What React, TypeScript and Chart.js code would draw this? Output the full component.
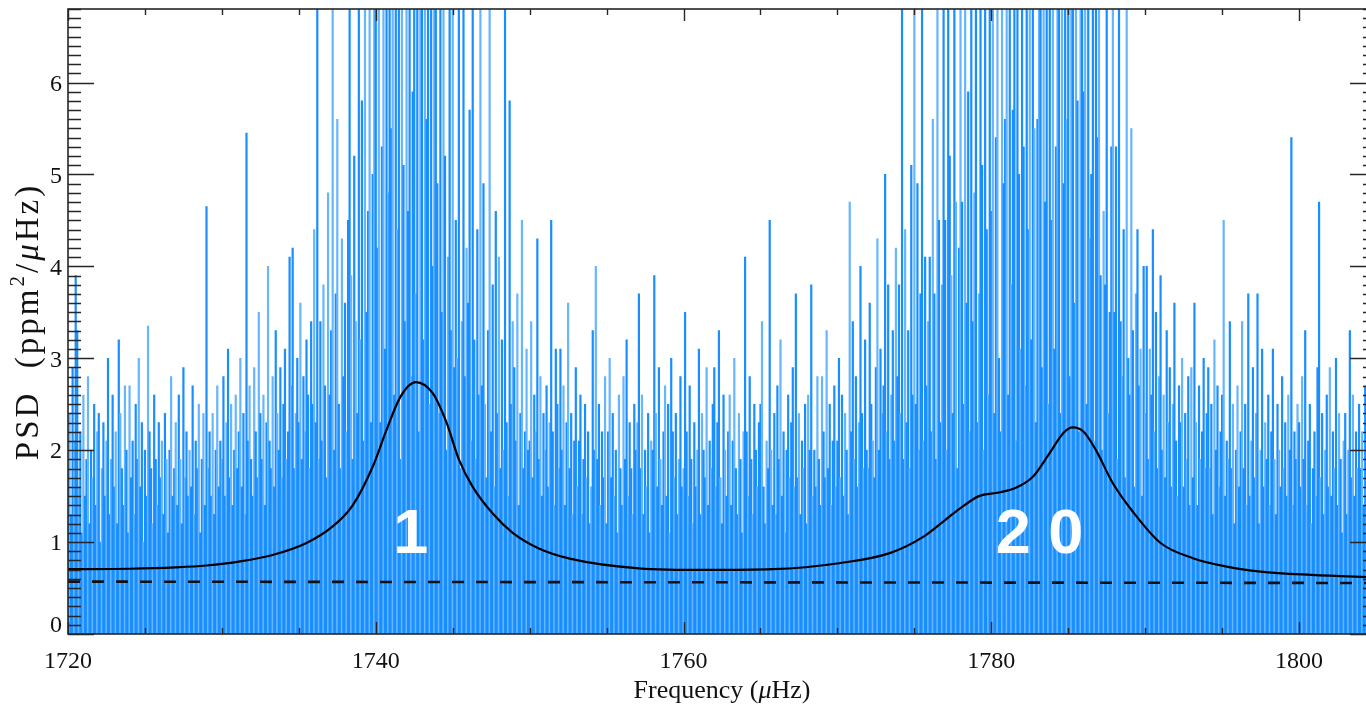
import React, { useEffect, useRef } from "react";
import { Chart, registerables } from "chart.js";

Chart.register(...registerables);

// ---- axis ranges ----
const FREQ_MIN = 1720;
const FREQ_MAX = 1805;
const PSD_MIN = 0;
const PSD_MAX = 6.8;
const BIN_WIDTH = 0.1; // µHz between spectrum columns

// ---- tick labels ----
const xMajorTicks = [1720, 1740, 1760, 1780, 1800];
const xMinorStep = 5;
const yMajorTicks = [0, 1, 2, 3, 4, 5, 6];
const yMinorStep = 0.1;

// ---- observed power spectrum (PSD, ppm^2/µHz), one array per 10 µHz, 0.1 µHz bins ----
const psd1720 = [1.8,2.4,1.3,2.9,2.1,3.9,3.3,1.6,2.2,1.1, 2.6,1.5,1.9,2.8,1.2,2.0,1.7,2.5,1.4,2.2, 2.4,1.0,1.8,2.3,1.5,2.1,3.0,1.3,1.9,2.6, 1.6,2.2,1.2,3.2,2.4,1.8,1.4,2.7,2.0,1.1, 2.7,1.7,2.1,1.3,2.5,1.9,3.0,1.6,2.3,1.0, 2.0,1.5,3.35,2.2,1.8,1.2,2.6,1.9,1.4,2.3, 1.7,2.1,1.3,2.4,1.9,1.1,2.0,2.8,1.5,1.8, 2.3,1.4,2.6,1.9,1.2,2.9,1.7,2.2,1.5,2.0, 1.6,2.7,1.3,2.1,1.8,2.5,1.1,1.9,2.4,1.4, 4.65,1.8,2.2,1.5,2.4,1.3,2.0,2.7,1.6,2.1];
const psd1730 = [1.9,2.8,1.5,2.3,3.1,1.7,2.5,1.4,2.0,2.6, 1.8,2.2,3.0,1.6,2.4,1.3,5.45,2.1,2.7,1.9, 1.5,2.9,2.2,1.7,3.5,2.4,1.9,2.6,1.4,2.3, 4.0,2.1,1.8,2.8,1.6,3.3,2.4,2.0,2.9,1.7, 2.5,3.1,1.9,2.2,4.1,2.7,4.2,1.8,2.4,3.0, 2.3,3.6,1.9,2.8,2.2,3.2,2.6,1.8,3.4,2.5, 4.4,2.3,6.9,1.9,3.4,2.1,3.8,2.7,1.7,4.8, 2.6,3.3,6.9,2.0,3.7,5.6,2.5,1.8,4.3,2.8, 3.6,2.2,4.5,6.9,3.9,1.9,5.2,3.4,2.4,6.9, 3.2,5.8,2.1,6.9,3.5,4.6,6.9,2.3,5.0,6.9];
const psd1740 = [6.9,4.2,6.9,2.3,5.3,6.9,3.1,6.9,4.8,6.9, 5.5,6.9,2.6,6.9,4.4,6.9,1.9,6.9,5.1,3.4, 6.9,4.6,6.9,2.8,5.9,6.9,3.7,6.9,2.2,6.9, 6.9,3.2,6.9,5.6,6.9,2.5,6.9,4.0,6.9,6.9, 4.9,2.4,6.9,3.5,6.9,5.2,2.0,4.1,6.9,3.3, 6.9,2.9,4.5,3.0,6.9,1.8,3.4,6.9,2.8,4.2, 3.6,5.7,2.1,6.9,3.2,1.9,4.4,2.6,6.9,2.7, 4.9,2.5,1.7,3.3,6.9,2.2,3.8,1.6,4.6,2.4, 4.1,1.8,3.2,2.0,6.9,2.3,1.5,5.8,2.5,3.4, 2.9,2.1,3.7,1.4,2.4,4.5,1.8,2.2,3.1,2.0];
const psd1750 = [2.1,3.4,1.7,2.6,2.2,4.3,1.9,2.8,1.5,2.4, 2.0,2.7,1.6,2.3,4.5,2.2,1.4,3.1,2.5,1.8, 3.1,2.0,2.7,1.4,2.3,3.6,1.8,2.4,1.3,2.1, 2.9,1.6,2.1,2.6,1.3,1.9,2.5,1.7,2.2,1.2, 1.6,3.3,2.0,4.0,1.9,2.5,1.4,2.2,1.7,2.8, 1.2,2.2,3.0,1.7,2.4,1.5,2.0,1.1,2.6,1.8, 1.4,2.8,1.9,3.2,1.5,2.3,1.8,1.3,2.5,2.0, 2.3,3.7,1.8,2.6,1.3,2.0,1.6,2.4,1.1,2.1, 2.0,3.9,2.4,1.6,2.9,1.9,1.4,2.2,2.7,1.5, 2.5,1.1,3.0,2.2,1.7,2.4,1.3,1.9,2.8,1.6];
const psd1760 = [1.8,3.5,2.2,1.5,2.7,1.9,1.2,2.3,1.6,2.0, 3.1,1.3,2.4,2.0,1.7,2.9,1.4,2.1,1.8,2.5, 2.9,1.6,2.3,3.3,1.7,1.2,2.6,2.0,1.5,2.2, 2.6,1.4,2.1,3.0,1.8,1.3,2.4,1.9,1.1,2.2, 4.1,2.2,1.5,2.8,1.9,1.3,2.5,2.0,1.6,2.3, 2.5,3.4,1.6,1.2,2.1,1.8,4.5,2.0,1.4,2.4, 1.3,2.7,1.9,3.2,1.5,2.2,1.1,2.0,2.6,1.7, 2.3,2.9,1.6,3.7,1.7,2.4,1.3,2.1,1.8,2.5, 1.2,2.6,2.0,3.8,1.5,2.0,1.6,2.8,1.9,1.4, 2.8,2.2,1.7,3.3,1.8,2.5,1.4,2.1,2.7,1.6];
const psd1770 = [2.1,3.0,1.7,2.6,1.5,2.4,2.0,1.3,4.7,2.2, 3.4,1.9,2.8,1.6,2.3,4.0,2.4,1.8,3.2,2.0, 1.8,3.6,2.5,2.1,1.7,2.9,4.3,2.0,3.1,2.4, 2.7,5.0,2.2,3.8,1.9,2.6,3.3,2.1,4.2,2.8, 3.8,2.4,6.9,1.9,4.4,2.3,3.3,1.8,5.1,2.6, 6.9,2.5,4.9,2.0,3.7,6.9,2.1,4.1,2.7,3.4, 4.1,2.2,5.6,3.7,1.9,6.9,4.5,2.3,3.8,6.9, 4.5,2.0,6.9,5.2,3.9,2.4,6.9,4.7,1.8,4.2, 6.9,4.7,2.5,6.9,3.6,5.9,2.2,6.9,3.4,4.8, 6.9,2.3,3.7,6.9,5.1,2.0,6.9,4.4,2.6,6.9];
const psd1780 = [4.6,6.9,2.4,5.4,6.9,3.0,2.2,6.9,4.9,5.6, 6.9,2.6,6.9,3.8,5.7,6.9,2.1,6.9,5.0,3.1, 6.9,5.3,2.7,6.9,4.4,6.9,3.2,6.9,5.5,2.3, 5.6,6.9,6.9,2.9,6.9,4.7,6.9,2.5,6.9,4.5, 6.9,3.1,5.3,6.9,6.9,2.4,6.9,4.9,6.9,5.6, 6.9,2.8,6.9,6.9,3.6,6.9,5.8,2.2,6.9,6.9, 5.9,6.9,2.5,6.9,4.3,5.0,6.9,2.1,6.9,5.4, 6.9,3.9,2.0,4.6,3.8,6.9,2.4,3.5,5.3,6.9, 3.5,5.3,1.9,6.9,3.4,2.8,4.4,1.7,6.9,3.0, 2.6,5.5,3.3,1.6,3.7,4.4,2.7,3.1,1.5,4.0];
const psd1790 = [2.4,4.0,1.9,3.1,2.6,4.4,2.2,3.5,1.8,2.8, 3.9,2.0,2.6,1.7,3.3,2.3,2.9,1.6,2.5,3.6, 2.1,1.5,2.7,2.3,3.0,1.6,2.4,1.9,2.8,1.4, 2.9,1.7,3.6,2.3,1.4,2.7,1.9,2.2,3.0,1.8, 2.4,2.9,1.8,2.5,1.3,3.2,2.0,2.7,1.6,2.2, 2.6,4.5,1.5,2.1,1.9,3.4,1.8,2.5,1.2,2.0, 2.7,1.6,2.2,3.4,1.8,2.5,1.4,3.7,1.5,2.1, 2.9,1.7,2.4,3.7,1.2,2.0,3.1,1.6,2.3,1.9, 2.6,1.4,2.2,3.1,1.9,1.3,2.5,2.0,1.6,2.8, 1.8,2.3,1.5,2.6,2.0,5.4,1.4,2.2,1.9,2.5];
const psd1800 = [2.3,1.6,2.8,1.9,3.3,1.4,2.1,2.5,1.2,1.8, 2.2,1.5,2.9,4.7,1.7,2.4,1.3,2.0,2.6,1.6, 2.9,1.5,2.2,1.8,3.0,1.4,2.4,1.9,1.1,2.1, 2.4,1.3,2.0,3.3,1.7,2.6,1.5,2.2,1.8,2.5, 1.8,2.2,1.4,2.7,1.6,2.0,1.5,2.3,1.7,2.1];

const psdSegmentStarts = [1720, 1730, 1740, 1750, 1760, 1770, 1780, 1790, 1800];
const psdSegments = [psd1720, psd1730, psd1740, psd1750, psd1760, psd1770, psd1780, psd1790, psd1800];

// ---- fitted mode profile (solid black) ----
const fitFreq = [1720, 1724, 1727, 1729, 1731.2, 1733.3, 1735.5, 1737.2, 1738.5, 1739.8, 1740.7, 1741.6, 1742.6, 1743.7, 1744.6, 1745.4, 1746.3, 1747.6, 1748.9, 1750.6, 1752.6, 1757.1, 1761.5, 1765.8, 1770.1, 1773.4, 1775.6, 1777.0, 1778.0, 1779.2, 1780.5, 1781.6, 1782.7, 1783.8, 1784.7, 1785.3, 1786.0, 1786.8, 1787.9, 1789.2, 1791.0, 1793.1, 1795.3, 1797.5, 1800.8, 1805];
const fitPsd = [0.705, 0.71, 0.725, 0.745, 0.79, 0.86, 0.99, 1.17, 1.40, 1.82, 2.22, 2.58, 2.74, 2.62, 2.30, 1.90, 1.60, 1.31, 1.10, 0.93, 0.82, 0.715, 0.697, 0.705, 0.77, 0.88, 1.06, 1.24, 1.37, 1.50, 1.54, 1.59, 1.71, 1.97, 2.19, 2.247, 2.20, 2.00, 1.64, 1.33, 0.99, 0.825, 0.733, 0.679, 0.643, 0.615];

// ---- background level (dashed) ----
const bgFreq = [1720, 1805];
const bgPsd = [0.57, 0.555];

// ---- mode degree labels ----
const modeLabels = ["1", "2 0"];
const modeLabelFreq = [1742.27, 1783.14];
const modeLabelPsd = [0.88, 0.88];

const AXIS_COLOR = "#262626";
const SERIF = '"Liberation Serif", "Times New Roman", serif';
const PSD_DARK = "rgb(24,142,255)";
const PSD_LIGHT = "rgb(102,181,255)";

function drawRich(ctx: CanvasRenderingContext2D, parts: { t: string; font: string; dy?: number }[], x: number, y: number) {
  let total = 0;
  for (const p of parts) {
    ctx.font = p.font;
    total += ctx.measureText(p.t).width;
  }
  let cx = x - total / 2;
  ctx.textAlign = "left";
  for (const p of parts) {
    ctx.font = p.font;
    ctx.fillText(p.t, cx, y + (p.dy || 0));
    cx += ctx.measureText(p.t).width;
  }
}

const idlAxesPlugin = {
  id: "idlAxes",
  afterDatasetDraw(chart: any, args: any) {
    if (args.index !== 2) return;
    const { ctx, scales } = chart;
    const xs = scales.x, ys = scales.y;
    ctx.save();
    ctx.fillStyle = "#ffffff";
    ctx.font = 'bold 63px "Liberation Sans", Arial, sans-serif';
    ctx.textAlign = "center";
    ctx.textBaseline = "alphabetic";
    modeLabels.forEach((t, i) => {
      ctx.fillText(t, xs.getPixelForValue(modeLabelFreq[i]), ys.getPixelForValue(modeLabelPsd[i]));
    });
    ctx.restore();
  },
  afterDraw(chart: any) {
    const { ctx, chartArea, scales } = chart;
    const xs = scales.x, ys = scales.y;
    const { left, right, top, bottom } = chartArea;
    ctx.save();
    ctx.strokeStyle = AXIS_COLOR;
    ctx.lineWidth = 1.6;
    ctx.strokeRect(left, top, right - left, bottom - top);

    ctx.lineWidth = 1.4;
    ctx.beginPath();
    const nx = Math.round((FREQ_MAX - FREQ_MIN) / xMinorStep);
    for (let i = 0; i <= nx; i++) {
      const v = FREQ_MIN + i * xMinorStep;
      const px = Math.round(xs.getPixelForValue(v)) + 0.5;
      const len = xMajorTicks.includes(v) ? 12 : 6;
      ctx.moveTo(px, bottom);
      ctx.lineTo(px, bottom - len);
      ctx.moveTo(px, top);
      ctx.lineTo(px, top + len);
    }
    const ny = Math.round((PSD_MAX - PSD_MIN) / yMinorStep);
    for (let k = 0; k <= ny; k++) {
      const v = PSD_MIN + k * yMinorStep;
      const py = Math.round(ys.getPixelForValue(v)) + 0.5;
      const len = k % 10 === 0 ? 26 : 13;
      ctx.moveTo(left, py);
      ctx.lineTo(left + len, py);
      ctx.moveTo(right, py);
      ctx.lineTo(right - len, py);
    }
    ctx.stroke();

    ctx.fillStyle = "#111";
    ctx.font = `24px ${SERIF}`;
    ctx.textAlign = "center";
    ctx.textBaseline = "alphabetic";
    xMajorTicks.forEach((v) => {
      ctx.fillText(String(v), xs.getPixelForValue(v), 668);
    });
    ctx.textAlign = "right";
    ctx.textBaseline = "middle";
    yMajorTicks.forEach((v) => {
      let py = ys.getPixelForValue(v) + 2;
      if (v === PSD_MIN) py = bottom - 8;
      ctx.fillText(String(v), left - 6, py);
    });

    ctx.textBaseline = "alphabetic";
    const f = `26px ${SERIF}`;
    const fi = `italic 26px ${SERIF}`;
    drawRich(ctx, [
      { t: "Frequency (", font: f },
      { t: "\u03bc", font: fi },
      { t: "Hz)", font: f },
    ], (left + right) / 2, 698);

    const g = `33px ${SERIF}`;
    const gi = `italic 33px ${SERIF}`;
    ctx.translate(38, (top + bottom) / 2);
    ctx.rotate(-Math.PI / 2);
    (ctx as any).letterSpacing = "3px";
    drawRich(ctx, [
      { t: "PSD  (ppm", font: g },
      { t: "2", font: `21px ${SERIF}`, dy: -14 },
      { t: "/", font: g },
      { t: "\u03bc", font: gi },
      { t: "Hz)", font: g },
    ], 0, 0);
    (ctx as any).letterSpacing = "0px";
    ctx.restore();
  },
};

export default function App() {
  const canvasRef = useRef<HTMLCanvasElement | null>(null);

  useEffect(() => {
    const canvas = canvasRef.current;
    if (!canvas) return;

    const psdPoints: { x: number; y: number }[] = [];
    psdSegments.forEach((seg, s) => {
      seg.forEach((v, i) => {
        psdPoints.push({ x: psdSegmentStarts[s] + i * BIN_WIDTH, y: v });
      });
    });
    const fitPoints = fitFreq.map((x, i) => ({ x, y: fitPsd[i] }));
    const bgPoints = bgFreq.map((x, i) => ({ x, y: bgPsd[i] }));

    const chart = new Chart(canvas, {
      type: "bar",
      data: {
        datasets: [
          {
            type: "line",
            data: fitPoints,
            borderColor: "#000000",
            borderWidth: 2.2,
            pointRadius: 0,
            cubicInterpolationMode: "monotone",
            fill: false,
          },
          {
            type: "line",
            data: bgPoints,
            borderColor: "#111111",
            borderWidth: 2.6,
            borderDash: [12, 12],
            pointRadius: 0,
            fill: false,
          },
          {
            type: "bar",
            data: psdPoints,
            backgroundColor: (c: any) => (c.dataIndex % 3 === 1 ? PSD_LIGHT : PSD_DARK),
            borderWidth: 0,
            barPercentage: 1,
            categoryPercentage: 1,
            grouped: false,
          },
        ],
      } as any,
      options: {
        responsive: false,
        animation: false,
        devicePixelRatio: 1,
        events: [],
        layout: { padding: { left: 68, right: 2, top: 9, bottom: 71 } },
        plugins: { legend: { display: false }, tooltip: { enabled: false } },
        scales: {
          x: { type: "linear", min: FREQ_MIN, max: FREQ_MAX, offset: false, display: false },
          y: { type: "linear", min: PSD_MIN, max: PSD_MAX, display: false },
        },
      } as any,
      plugins: [idlAxesPlugin],
    });
    return () => chart.destroy();
  }, []);

  return (
    <div style={{ position: "absolute", left: 0, top: 0, width: 1366, height: 705, overflow: "hidden", background: "#ffffff" }}>
      <canvas ref={canvasRef} width={1378} height={705} style={{ display: "block" }} />
    </div>
  );
}
